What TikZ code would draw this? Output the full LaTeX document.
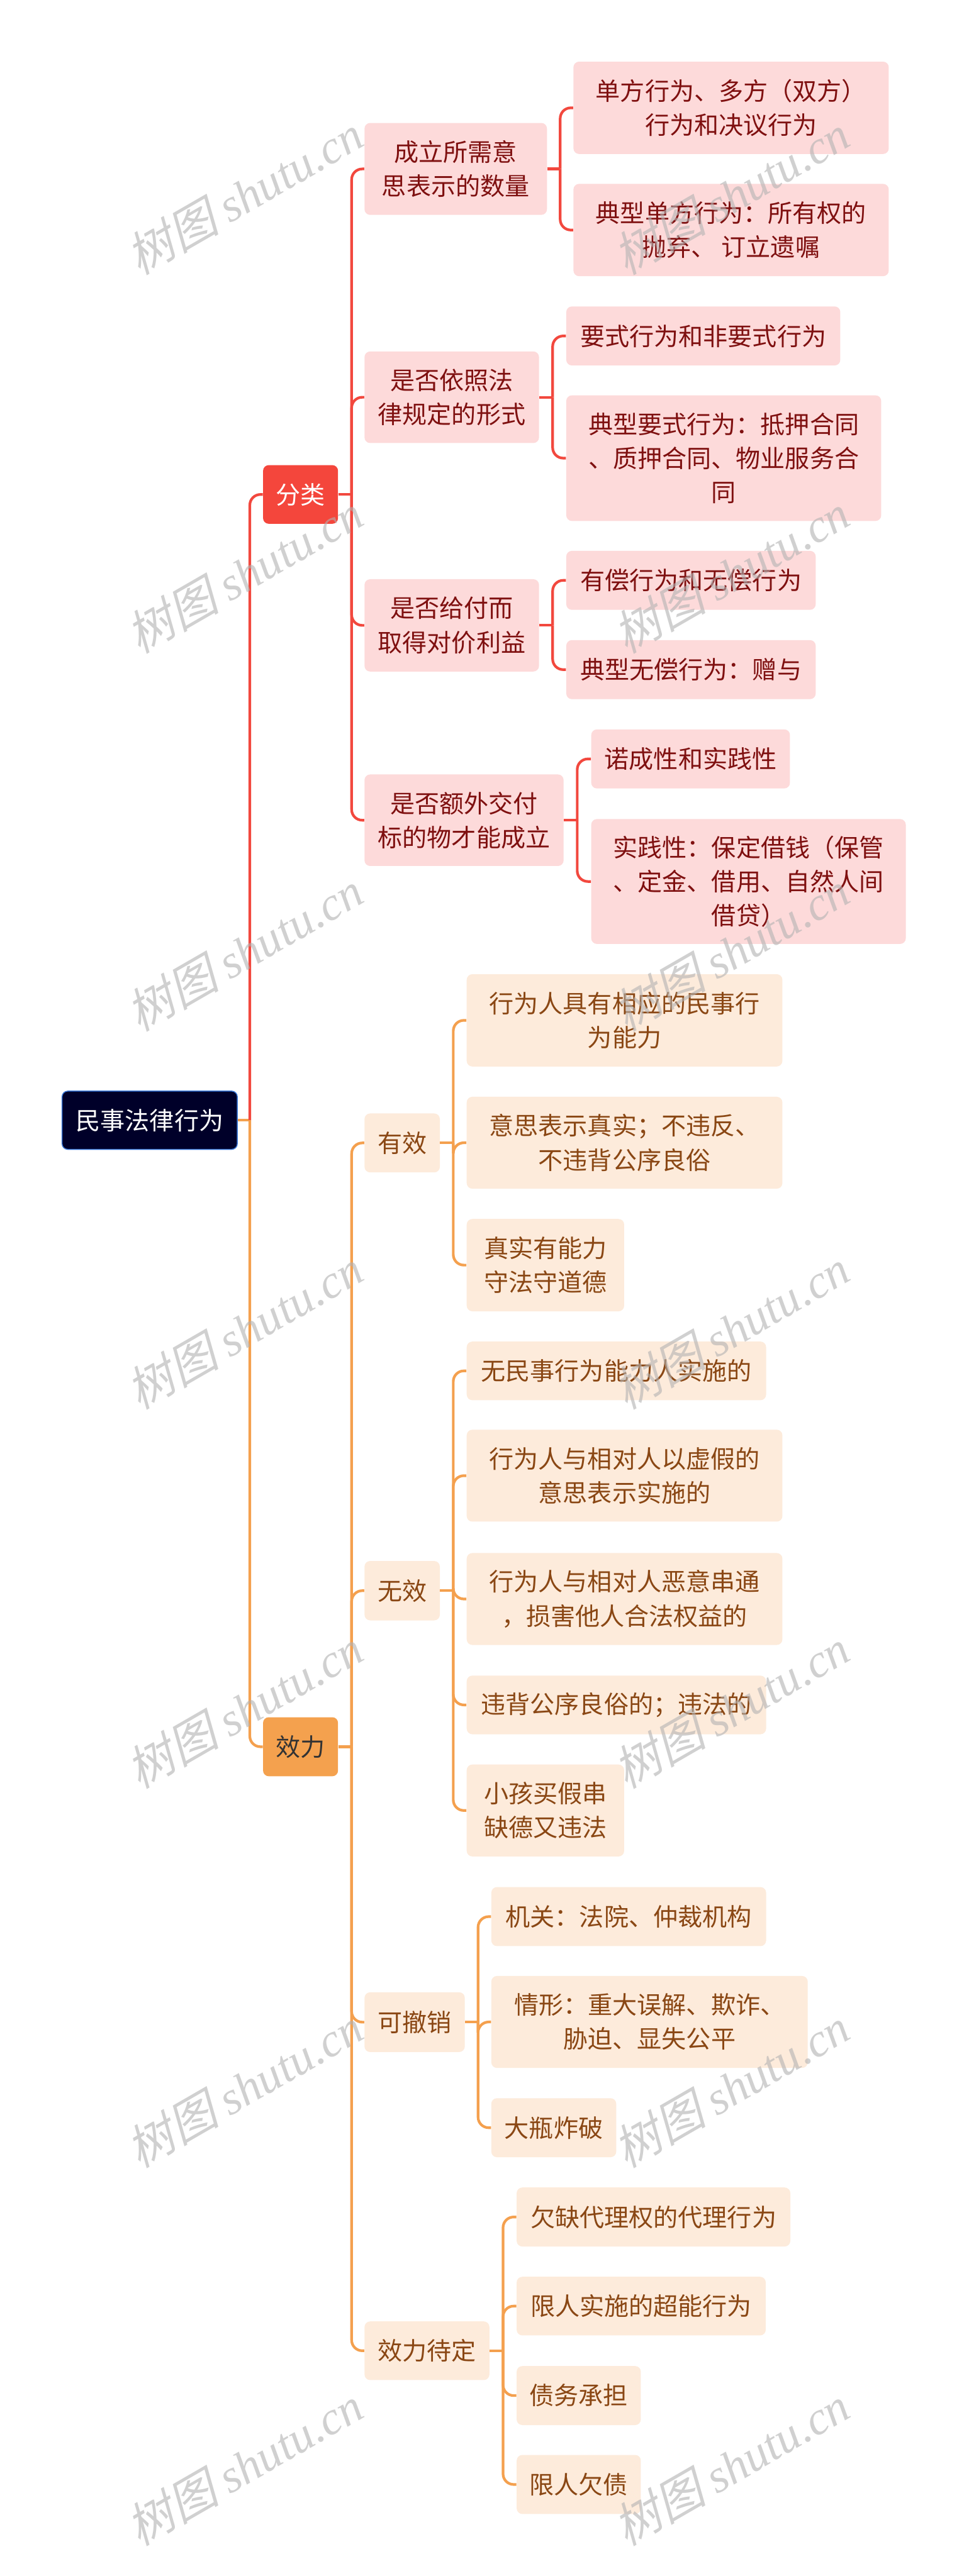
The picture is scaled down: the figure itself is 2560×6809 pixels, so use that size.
\documentclass[tikz,border=0pt]{standalone}
\usepackage{fontspec}
\newfontfamily\cjk{Noto Sans CJK SC}
\newfontfamily\cjkslant[FakeSlant=0.25]{Noto Sans CJK SC}
\newfontfamily\wmlat{Liberation Serif}
\definecolor{redline}{HTML}{F2483E}
\definecolor{redfill}{HTML}{F4463C}
\definecolor{pinkfill}{HTML}{FDDADA}
\definecolor{darkred}{HTML}{7F1010}
\definecolor{orangeline}{HTML}{F4A04E}
\definecolor{orangefill}{HTML}{F4A14E}
\definecolor{peachfill}{HTML}{FDEBDB}
\definecolor{browntext}{HTML}{8A4714}
\definecolor{rootfill}{HTML}{000029}
\definecolor{rootborder}{HTML}{3A78D8}
\tikzset{
  box/.style={rounded corners=3.75pt, inner sep=0pt, align=center,
    font=\cjk\fontsize{16.25}{22.5}\selectfont},
  rootbox/.style={box, fill=rootfill, draw=rootborder, line width=0.6pt, text=white},
  redmain/.style={box, fill=redfill, text=white},
  orgmain/.style={box, fill=orangefill, text=black!80},
  rbox/.style={box, fill=pinkfill, text=darkred},
  obox/.style={box, fill=peachfill, text=browntext},
  rline/.style={draw=redline, line width=1.75pt, rounded corners=7pt},
  oline/.style={draw=orangeline, line width=1.75pt, rounded corners=7pt},
  wmark/.style={rotate=30, text=black!30, opacity=0.6, inner sep=0pt,
    font=\fontsize{31}{31}\selectfont}
}
\newcommand\bx[7]{\node[#2, minimum width=#5*0.25pt, minimum height=#6*0.25pt] (#1) at (#3,#4) {#7};}
\begin{document}
\begin{tikzpicture}[x=0.25pt,y=-0.25pt]
\useasboundingbox[fill=white] (0,0) rectangle (2560,6809);
% root and main branches
\bx{root}{rootbox}{395.5}{2961}{463}{154}{民事法律行为}
\bx{fenlei}{redmain}{794}{1307}{198}{155}{分类}
\bx{xiaoli}{orgmain}{794}{4617}{198}{156}{效力}
% fenlei children
\bx{c1}{rbox}{1204}{446.5}{482}{243}{成立所需意\\思表示的数量}
\bx{c2}{rbox}{1193.5}{1050}{461}{242}{是否依照法\\律规定的形式}
\bx{c3}{rbox}{1193.5}{1653}{461}{244}{是否给付而\\取得对价利益}
\bx{c4}{rbox}{1226}{2168}{526}{242}{是否额外交付\\标的物才能成立}
\bx{c1a}{rbox}{1931.5}{285}{833}{244}{单方行为、多方（双方）\\行为和决议行为}
\bx{c1b}{rbox}{1931.5}{608}{833}{244}{典型单方行为：所有权的\\抛弃、 订立遗嘱}
\bx{c2a}{rbox}{1858}{888}{724}{156}{要式行为和非要式行为}
\bx{c2b}{rbox}{1912}{1211}{832}{332}{典型要式行为：抵押合同\\、质押合同、物业服务合\\同}
\bx{c3a}{rbox}{1825.5}{1534}{659}{156}{有偿行为和无偿行为}
\bx{c3b}{rbox}{1825.5}{1770}{659}{156}{典型无偿行为：赠与}
\bx{c4a}{rbox}{1824.5}{2006}{525}{156}{诺成性和实践性}
\bx{c4b}{rbox}{1977.5}{2330}{831}{330}{实践性：保定借钱（保管\\、定金、借用、自然人间\\借贷）}
% xiaoli children
\bx{y1}{obox}{1062.5}{3021}{199}{156}{有效}
\bx{y1a}{obox}{1650}{2697}{834}{244}{行为人具有相应的民事行\\为能力}
\bx{y1b}{obox}{1650}{3020.5}{834}{243}{意思表示真实；不违反、\\不违背公序良俗}
\bx{y1c}{obox}{1441}{3344}{416}{244}{真实有能力\\守法守道德}
\bx{y2}{obox}{1062.5}{4204.5}{199}{157}{无效}
\bx{y2a}{obox}{1628.5}{3623.5}{791}{155}{无民事行为能力人实施的}
\bx{y2b}{obox}{1650}{3900.5}{834}{243}{行为人与相对人以虚假的\\意思表示实施的}
\bx{y2c}{obox}{1650}{4226.5}{834}{243}{行为人与相对人恶意串通\\，损害他人合法权益的}
\bx{y2d}{obox}{1628.5}{4506.5}{791}{155}{违背公序良俗的；违法的}
\bx{y2e}{obox}{1441}{4785.5}{416}{243}{小孩买假串\\缺德又违法}
\bx{y3}{obox}{1095.5}{5345}{265}{158}{可撤销}
\bx{y3a}{obox}{1661}{5066}{726}{156}{机关：法院、仲裁机构}
\bx{y3b}{obox}{1716}{5344.5}{836}{243}{情形：重大误解、欺诈、\\胁迫、显失公平}
\bx{y3c}{obox}{1463}{5624}{330}{156}{大瓶炸破}
\bx{y4}{obox}{1128}{6213.5}{330}{155}{效力待定}
\bx{y4a}{obox}{1726.5}{5860}{723}{156}{欠缺代理权的代理行为}
\bx{y4b}{obox}{1694}{6095.5}{658}{155}{限人实施的超能行为}
\bx{y4c}{obox}{1529}{6332}{328}{156}{债务承担}
\bx{y4d}{obox}{1529}{6567}{328}{156}{限人欠债}
% junctions
\coordinate (rj) at (660,2961);
\coordinate (fj) at (929,1307);
\coordinate (xj) at (929,4617);
\coordinate (c1j) at (1480,446.5);
\coordinate (c2j) at (1460,1050);
\coordinate (c3j) at (1460,1653);
\coordinate (c4j) at (1525,2168);
\coordinate (y1j) at (1197.5,3021);
\coordinate (y2j) at (1197.5,4204.5);
\coordinate (y3j) at (1263,5345);
\coordinate (y4j) at (1329,6213.5);
% connectors
\draw[oline] (root.east) -- (rj);
\draw[rline] (rj) |- (fenlei.west);
\draw[oline] (rj) |- (xiaoli.west);
\draw[rline] (fenlei.east) -- (fj);
\foreach \c in {c1,c2,c3,c4} {\draw[rline] (fj) |- (\c.west);}
\draw[rline] (c1.east) -- (c1j);
\foreach \c in {c1a,c1b} {\draw[rline] (c1j) |- (\c.west);}
\draw[rline] (c2.east) -- (c2j);
\foreach \c in {c2a,c2b} {\draw[rline] (c2j) |- (\c.west);}
\draw[rline] (c3.east) -- (c3j);
\foreach \c in {c3a,c3b} {\draw[rline] (c3j) |- (\c.west);}
\draw[rline] (c4.east) -- (c4j);
\foreach \c in {c4a,c4b} {\draw[rline] (c4j) |- (\c.west);}
\draw[oline] (xiaoli.east) -- (xj);
\foreach \c in {y1,y2,y3,y4} {\draw[oline] (xj) |- (\c.west);}
\draw[oline] (y1.east) -- (y1j);
\foreach \c in {y1a,y1b,y1c} {\draw[oline] (y1j) |- (\c.west);}
\draw[oline] (y2.east) -- (y2j);
\foreach \c in {y2a,y2b,y2c,y2d,y2e} {\draw[oline] (y2j) |- (\c.west);}
\draw[oline] (y3.east) -- (y3j);
\foreach \c in {y3a,y3b,y3c} {\draw[oline] (y3j) |- (\c.west);}
\draw[oline] (y4.east) -- (y4j);
\foreach \c in {y4a,y4b,y4c,y4d} {\draw[oline] (y4j) |- (\c.west);}
% watermarks
\foreach \yy [count=\i] in {515,1516,2515,3514,4517,5518,6518} {
  \node[wmark] (wl\i) at (645,\yy) {\cjkslant 树图 \wmlat\itshape shutu.cn};
  \node[wmark] (wr\i) at (1931,\yy) {\cjkslant 树图 \wmlat\itshape shutu.cn};
}
\end{tikzpicture}
\end{document}
